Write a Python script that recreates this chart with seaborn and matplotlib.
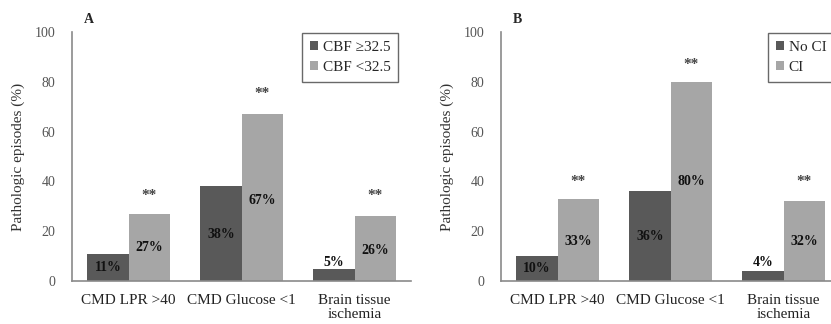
import seaborn as sns
import matplotlib.pyplot as plt
import pandas as pd

# data
categories = ['CMD LPR >40', 'CMD Glucose <1', 'Brain tissue\nischemia']

cbf_groups = ['CBF \u226532.5', 'CBF <32.5']
cbf_high = [11, 38, 5]
cbf_low = [27, 67, 26]

ci_groups = ['No CI', 'CI']
no_ci = [10, 36, 4]
ci = [33, 80, 32]

# where the percent labels and stars sit (in data units)
lab_y_a = [[5.6, 18.5, 7.6], [13.3, 32.5, 12.4]]
lab_y_b = [[5.2, 17.7, 7.6], [16.0, 39.8, 15.7]]
star_y_a = [34.5, 75.5, 34.5]
star_y_b = [39.8, 87.0, 39.8]

sns.set_style('white')
plt.rcParams['font.family'] = ['Liberation Serif', 'DejaVu Serif']

colors = ['#595959', '#a6a6a6']
W, H = 831, 324
fig = plt.figure(figsize=(W / 100, H / 100), dpi=100)


def panel(left, letter, groups, v1, v2, lab_y, star_y, leg_loc, leg_anchor):
    ax = fig.add_axes([left / W, (H - 281) / H, 339 / W, 249 / H])
    df = pd.DataFrame({
        'cat': categories * 2,
        'grp': [groups[0]] * 3 + [groups[1]] * 3,
        'val': v1 + v2,
    })
    sns.barplot(data=df, x='cat', y='val', hue='grp', palette=colors,
                width=0.73, ax=ax, saturation=1, errorbar=None, linewidth=0)
    ax.set_xlim(-0.5, 2.5)
    ax.set_ylim(0, 100)
    ax.set_yticks([0, 20, 40, 60, 80, 100])
    ax.tick_params(axis='y', labelsize=10, labelcolor='#555555', length=0, pad=12)
    ax.tick_params(axis='x', labelsize=11, labelcolor='#222222', length=0, pad=9)
    ax.set_xlabel('')
    ax.set_ylabel('Pathologic episodes (%)', fontsize=11, color='#333333', labelpad=7)
    for s in ['top', 'right']:
        ax.spines[s].set_visible(False)
    for s in ['left', 'bottom']:
        ax.spines[s].set_color('#8a8a8a')
        ax.spines[s].set_linewidth(1.2)

    off = 0.73 / 4
    for i in range(3):
        ax.text(i - off, lab_y[0][i], f'{v1[i]}%', ha='center', va='center',
                fontsize=10, fontweight='bold', color='#111111')
        ax.text(i + off, lab_y[1][i], f'{v2[i]}%', ha='center', va='center',
                fontsize=10, fontweight='bold', color='#111111')
        ax.text(i + off, star_y[i], '**', ha='center', va='center',
                fontsize=11, fontweight='bold', color='#444444')

    leg = ax.legend(loc=leg_loc, bbox_to_anchor=leg_anchor, borderaxespad=0,
                    fontsize=11, frameon=True, fancybox=False, handlelength=0.55,
                    handleheight=0.55, handletextpad=0.3, labelspacing=0.5,
                    borderpad=0.5)
    leg.get_frame().set_edgecolor('#444444')
    leg.get_frame().set_linewidth(1.0)
    ax.text(0.035, 1.05, letter, transform=ax.transAxes, fontsize=10,
            fontweight='bold', ha='left', va='center')
    return ax


panel(72, 'A', cbf_groups, cbf_high, cbf_low, lab_y_a, star_y_a,
      'upper right', (0.962, 0.996))
panel(501, 'B', ci_groups, no_ci, ci, lab_y_b, star_y_b,
      'upper left', (0.788, 0.996))

fig.savefig('out.png', dpi=100)
